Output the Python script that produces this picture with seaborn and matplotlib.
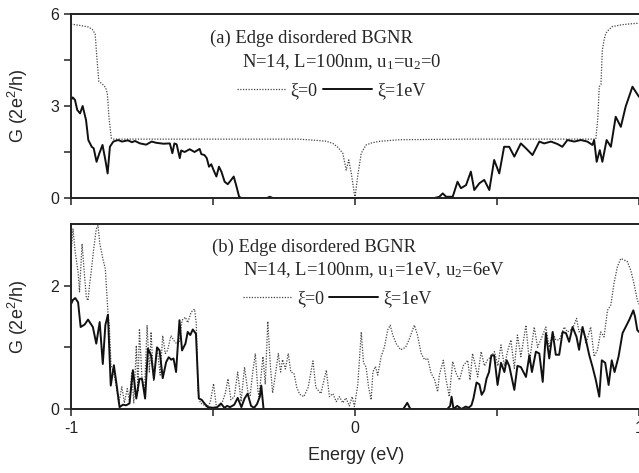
import numpy as np
import matplotlib
matplotlib.use("Agg")
import matplotlib.pyplot as plt
import seaborn as sns

# === Data: (energy in eV, conductance in 2e^2/h) ===
# (a) edge disordered, u1=u2=0
a_clean = [(-1.0, 5.67), (-0.97, 5.63), (-0.94, 5.58), (-0.925, 5.5), (-0.915, 5.35),
           (-0.909, 4.6), (-0.902, 3.8), (-0.89, 3.72), (-0.878, 3.6), (-0.872, 3.4),
           (-0.866, 2.6), (-0.858, 1.95), (-0.85, 1.92), (-0.6, 1.92), (-0.4, 1.92),
           (-0.2, 1.92), (-0.137, 1.88), (-0.10, 1.85), (-0.078, 1.78), (-0.06, 1.65),
           (-0.043, 1.46), (-0.031, 0.91), (-0.022, 1.24), (-0.013, 0.8), (0.0, 0.0),
           (0.01, 0.75), (0.022, 1.46), (0.039, 1.73), (0.06, 1.8), (0.087, 1.85),
           (0.157, 1.9), (0.4, 1.92), (0.6, 1.92), (0.8, 1.92), (0.848, 1.92),
           (0.855, 2.6), (0.86, 3.63), (0.866, 3.7), (0.871, 4.83), (0.877, 5.15),
           (0.883, 5.37), (0.895, 5.5), (0.906, 5.59), (0.94, 5.65), (0.97, 5.68), (1.0, 5.7)]

a_dis = [(-1.0, 3.2), (-0.994, 3.28), (-0.986, 3.2), (-0.978, 2.87), (-0.968, 2.76),
         (-0.959, 3.0), (-0.947, 2.54), (-0.939, 1.89), (-0.927, 1.67), (-0.920, 1.62),
         (-0.910, 1.18), (-0.900, 1.46), (-0.889, 1.73), (-0.879, 1.24), (-0.871, 0.8),
         (-0.863, 1.67), (-0.851, 1.84), (-0.834, 1.89), (-0.82, 1.84), (-0.80, 1.88),
         (-0.785, 1.82), (-0.775, 1.86), (-0.757, 1.78), (-0.735, 1.74), (-0.716, 1.84),
         (-0.70, 1.8), (-0.675, 1.77), (-0.652, 1.78), (-0.643, 1.46), (-0.636, 1.78),
         (-0.628, 1.75), (-0.617, 1.3), (-0.612, 1.55), (-0.60, 1.5), (-0.582, 1.59),
         (-0.565, 1.5), (-0.547, 1.6), (-0.541, 1.43), (-0.530, 1.4), (-0.522, 1.3),
         (-0.514, 1.02), (-0.506, 1.1), (-0.498, 0.91), (-0.488, 0.7), (-0.479, 1.02),
         (-0.47, 0.85), (-0.459, 0.53), (-0.448, 0.45), (-0.436, 0.59), (-0.427, 0.7),
         (-0.418, 0.4), (-0.408, 0.04), (-0.40, 0.0), (-0.31, 0.0), (-0.30, 0.04),
         (-0.29, 0.0), (0.28, 0.0), (0.297, 0.04), (0.309, 0.15), (0.321, 0.04),
         (0.344, 0.04), (0.361, 0.53), (0.373, 0.32), (0.391, 0.42), (0.408, 0.86),
         (0.42, 0.26), (0.438, 0.48), (0.455, 0.59), (0.473, 0.26), (0.49, 1.24),
         (0.508, 0.8), (0.525, 1.67), (0.543, 1.67), (0.561, 1.35), (0.584, 1.78),
         (0.602, 1.62), (0.625, 1.4), (0.649, 1.84), (0.666, 1.78), (0.69, 1.84),
         (0.713, 1.76), (0.73, 1.67), (0.748, 1.89), (0.772, 1.84), (0.795, 1.89),
         (0.818, 1.84), (0.836, 1.73), (0.842, 1.89), (0.851, 1.18), (0.862, 1.56),
         (0.871, 1.18), (0.886, 1.89), (0.901, 1.67), (0.918, 2.65), (0.936, 2.32),
         (0.953, 2.98), (0.977, 3.63), (0.988, 3.47), (1.0, 3.3)]

# (b) edge disordered, u1=1eV, u2=6eV
b_clean = [(-1.0, 2.5), (-0.993, 2.92), (-0.985, 2.54), (-0.975, 2.22), (-0.970, 1.9),
           (-0.961, 2.68), (-0.953, 2.2), (-0.946, 1.81), (-0.940, 1.76), (-0.935, 2.0),
           (-0.929, 2.22), (-0.92, 2.6), (-0.911, 2.92), (-0.905, 2.98), (-0.899, 2.7),
           (-0.888, 2.44), (-0.879, 2.27), (-0.870, 1.57), (-0.865, 1.35), (-0.859, 0.71),
           (-0.850, 0.6), (-0.841, 0.38), (-0.832, 0.09), (-0.821, 0.36), (-0.812, 0.1),
           (-0.802, 0.33), (-0.794, 0.12), (-0.786, 0.6), (-0.779, 0.1), (-0.770, 1.03),
           (-0.764, 0.3), (-0.759, 1.3), (-0.750, 0.5), (-0.741, 0.3), (-0.732, 1.36),
           (-0.724, 0.6), (-0.718, 1.25), (-0.709, 0.45), (-0.697, 1.0), (-0.686, 0.55),
           (-0.677, 1.19), (-0.668, 0.9), (-0.660, 0.95), (-0.648, 1.19), (-0.636, 1.1),
           (-0.626, 1.05), (-0.618, 1.1), (-0.609, 1.44), (-0.597, 1.49), (-0.589, 1.4),
           (-0.577, 1.57), (-0.565, 1.62), (-0.559, 1.4), (-0.553, 0.3), (-0.545, 0.1),
           (-0.533, 0.07), (-0.522, 0.03), (-0.510, 0.1), (-0.498, 0.41), (-0.489, 0.07),
           (-0.478, 0.03), (-0.468, 0.1), (-0.457, 0.25), (-0.447, 0.49), (-0.437, 0.15),
           (-0.425, 0.2), (-0.413, 0.6), (-0.401, 0.12), (-0.389, 0.68), (-0.378, 0.3),
           (-0.369, 0.22), (-0.360, 0.6), (-0.351, 0.9), (-0.342, 0.3), (-0.338, 0.2),
           (-0.324, 0.85), (-0.316, 0.4), (-0.307, 1.42), (-0.298, 0.7), (-0.290, 0.26),
           (-0.282, 0.5), (-0.270, 0.9), (-0.262, 0.6), (-0.255, 0.8), (-0.245, 0.65),
           (-0.235, 0.9), (-0.226, 0.6), (-0.215, 0.58), (-0.205, 0.35), (-0.195, 0.24),
           (-0.180, 0.2), (-0.165, 0.35), (-0.148, 0.78), (-0.138, 0.35), (-0.120, 0.25),
           (-0.101, 0.63), (-0.090, 0.2), (-0.078, 0.25), (-0.066, 0.12), (-0.055, 0.2),
           (-0.043, 0.1), (-0.032, 0.18), (-0.020, 0.05), (-0.01, 0.2), (-0.002, 0.04),
           (0.010, 0.4), (0.022, 1.25), (0.030, 0.75), (0.039, 0.68), (0.048, 0.35),
           (0.057, 0.15), (0.063, 0.6), (0.072, 0.69), (0.080, 0.55), (0.092, 0.85),
           (0.104, 1.01), (0.115, 1.28), (0.124, 1.36), (0.133, 1.2), (0.145, 1.06),
           (0.161, 0.96), (0.178, 1.0), (0.190, 1.12), (0.209, 1.36), (0.220, 1.2),
           (0.233, 0.9), (0.245, 0.8), (0.256, 0.82), (0.268, 0.58), (0.280, 0.48),
           (0.291, 0.28), (0.297, 0.55), (0.311, 0.79), (0.321, 0.47), (0.332, 0.2),
           (0.344, 0.77), (0.356, 0.58), (0.368, 0.47), (0.381, 0.7), (0.397, 0.79),
           (0.405, 0.47), (0.414, 0.9), (0.424, 0.7), (0.432, 0.52), (0.444, 0.93),
           (0.456, 0.7), (0.467, 0.8), (0.479, 0.85), (0.491, 0.93), (0.503, 0.7),
           (0.514, 1.04), (0.526, 0.7), (0.538, 0.95), (0.549, 1.12), (0.561, 0.66),
           (0.572, 1.2), (0.584, 0.85), (0.602, 1.36), (0.614, 0.75), (0.631, 1.33),
           (0.643, 1.0), (0.661, 1.2), (0.672, 1.33), (0.684, 1.0), (0.696, 1.25),
           (0.707, 1.12), (0.719, 1.12), (0.737, 1.33), (0.748, 1.25), (0.766, 1.3),
           (0.780, 1.47), (0.789, 1.25), (0.803, 1.33), (0.813, 1.06), (0.830, 1.33),
           (0.842, 0.85), (0.854, 0.96), (0.865, 1.25), (0.877, 1.17), (0.889, 1.6),
           (0.901, 1.69), (0.912, 2.04), (0.924, 2.31), (0.936, 2.44), (0.947, 2.42),
           (0.959, 2.39), (0.971, 2.25), (0.982, 2.04), (0.994, 1.77), (1.0, 1.7)]

b_dis = [(-1.0, 1.7), (-0.993, 1.77), (-0.985, 1.8), (-0.975, 1.73), (-0.966, 1.33),
         (-0.952, 1.37), (-0.940, 1.45), (-0.923, 1.33), (-0.911, 1.06), (-0.899, 1.41),
         (-0.888, 0.73), (-0.879, 1.36), (-0.870, 1.53), (-0.860, 0.38), (-0.849, 0.71),
         (-0.839, 0.38), (-0.829, 0.03), (-0.817, 0.07), (-0.806, 0.06), (-0.794, 0.09),
         (-0.782, 0.63), (-0.770, 0.17), (-0.759, 0.49), (-0.750, 0.49), (-0.739, 0.17),
         (-0.729, 0.98), (-0.718, 0.87), (-0.708, 0.49), (-0.697, 1.0), (-0.688, 0.95),
         (-0.677, 0.5), (-0.665, 0.76), (-0.656, 0.84), (-0.647, 0.8), (-0.639, 0.82),
         (-0.630, 0.6), (-0.618, 1.44), (-0.609, 0.95), (-0.597, 1.06), (-0.589, 1.25),
         (-0.580, 1.2), (-0.571, 1.29), (-0.560, 1.22), (-0.550, 0.17), (-0.540, 0.15),
         (-0.530, 0.09), (-0.518, 0.03), (-0.50, 0.02), (-0.485, 0.03), (-0.472, 0.09),
         (-0.46, 0.02), (-0.45, 0.05), (-0.44, 0.03), (-0.425, 0.07), (-0.413, 0.18),
         (-0.40, 0.03), (-0.389, 0.17), (-0.378, 0.25), (-0.366, 0.05), (-0.355, 0.02),
         (-0.345, 0.08), (-0.335, 0.2), (-0.330, 0.38), (-0.322, 0.0), (0.17, 0.0),
         (0.184, 0.1), (0.195, 0.0), (0.325, 0.0), (0.335, 0.05), (0.340, 0.2),
         (0.347, 0.0), (0.36, 0.05), (0.375, 0.0), (0.39, 0.04), (0.40, 0.02),
         (0.41, 0.06), (0.417, 0.17), (0.428, 0.43), (0.438, 0.4), (0.446, 0.23),
         (0.455, 0.3), (0.463, 0.49), (0.472, 0.6), (0.480, 0.87), (0.490, 0.87),
         (0.502, 0.39), (0.514, 0.75), (0.526, 0.6), (0.534, 0.79), (0.543, 0.7),
         (0.561, 0.31), (0.572, 0.7), (0.584, 0.68), (0.602, 0.52), (0.614, 0.87),
         (0.623, 0.6), (0.637, 0.93), (0.649, 0.9), (0.661, 0.44), (0.672, 1.23),
         (0.684, 0.82), (0.696, 1.25), (0.707, 0.88), (0.719, 0.88), (0.731, 1.25),
         (0.743, 1.23), (0.754, 1.09), (0.766, 1.33), (0.780, 1.17), (0.789, 0.96),
         (0.801, 1.33), (0.813, 1.12), (0.825, 0.87), (0.836, 0.69), (0.848, 0.47),
         (0.860, 0.2), (0.869, 0.79), (0.881, 0.75), (0.893, 0.39), (0.904, 0.79),
         (0.914, 0.6), (0.928, 0.85), (0.942, 1.23), (0.956, 1.36), (0.965, 1.44),
         (0.980, 1.6), (0.986, 1.5), (0.994, 1.28), (1.0, 1.25)]

x_ticks = [-1, -0.5, 0, 0.5, 1]
x_ticklabels = ["-1", "", "0", "", "1"]
a_yticks = [0, 1.5, 3, 4.5, 6]
a_yticklabels = ["0", "", "3", "", "6"]
b_yticks = [0, 1, 2]
b_yticklabels = ["0", "", "2"]
legend_labels = ["ξ=0", "ξ=1eV"]
a_title = "(a) Edge disordered BGNR"
a_params = "N=14, L=100nm, u$_1$=u$_2$=0"
b_title = "(b) Edge disordered BGNR"
b_params = "N=14, L=100nm, u$_1$=1eV, u$_2$=6eV"

# === Style ===
sns.set_style("ticks")
plt.rcParams["font.family"] = ["Liberation Sans", "DejaVu Sans"]
plt.rcParams["mathtext.default"] = "regular"
serif = ["Liberation Serif", "DejaVu Serif"]
note_size = 13.4

fig = plt.figure(figsize=(6.39, 4.73), dpi=100)
ax1 = fig.add_axes([0.1111, 0.5814, 0.8889, 0.389])
ax2 = fig.add_axes([0.1111, 0.1353, 0.8889, 0.391])


def draw(ax, clean, dis):
    e0, g0 = np.array(clean).T
    e1, g1 = np.array(dis).T
    sns.lineplot(x=e0, y=g0, ax=ax, color="#444444", lw=0.9, linestyle=(0, (1, 1.2)),
                 sort=False, estimator=None, label=legend_labels[0])
    sns.lineplot(x=e1, y=g1, ax=ax, color="#111111", lw=1.4,
                 sort=False, estimator=None, label=legend_labels[1])
    ax.set_xlim(-1, 1)
    ax.set_xticks(x_ticks)
    for side in ["left", "bottom", "top"]:
        ax.spines[side].set_linewidth(1.4)
        ax.spines[side].set_color("#222222")
    ax.spines["right"].set_visible(False)
    ax.tick_params(direction="out", length=5, width=1.1, labelsize=11.5, colors="#222222")


draw(ax1, a_clean, a_dis)
ax1.set_ylim(0, 6)
ax1.set_yticks(a_yticks)
ax1.set_yticklabels(a_yticklabels)
ax1.set_xticklabels([])
ax1.set_xlabel("")
ax1.set_ylabel("G (2e$^2$/h)", fontsize=13)
ax1.yaxis.set_label_coords(-0.072, 0.5)
ax1.text(0.245, 0.870, a_title, transform=ax1.transAxes, ha="left", va="center",
         family=serif, fontsize=note_size)
ax1.text(0.301, 0.739, a_params, transform=ax1.transAxes, ha="left", va="center",
         family=serif, fontsize=note_size)
h, l = ax1.get_legend_handles_labels()
ax1.legend(h, l, ncol=2, frameon=False, loc="center", bbox_to_anchor=(0.458, 0.582),
           handlelength=2.7, handletextpad=0.3, columnspacing=0.3,
           prop={"family": serif, "size": 13})

draw(ax2, b_clean, b_dis)
ax2.set_ylim(0, 3)
ax2.set_yticks(b_yticks)
ax2.set_yticklabels(b_yticklabels)
ax2.set_xticklabels(x_ticklabels)
ax2.set_ylabel("G (2e$^2$/h)", fontsize=13)
ax2.yaxis.set_label_coords(-0.072, 0.5)
ax2.set_xlabel("Energy (eV)", fontsize=13)
ax2.xaxis.set_label_coords(0.502, -0.205)
ax2.text(0.248, 0.876, b_title, transform=ax2.transAxes, ha="left", va="center",
         family=serif, fontsize=note_size)
ax2.text(0.303, 0.751, b_params, transform=ax2.transAxes, ha="left", va="center",
         family=serif, fontsize=note_size)
h, l = ax2.get_legend_handles_labels()
ax2.legend(h, l, ncol=2, frameon=False, loc="center", bbox_to_anchor=(0.469, 0.595),
           handlelength=2.7, handletextpad=0.3, columnspacing=0.3,
           prop={"family": serif, "size": 13})

fig.savefig("out.png", dpi=100)
